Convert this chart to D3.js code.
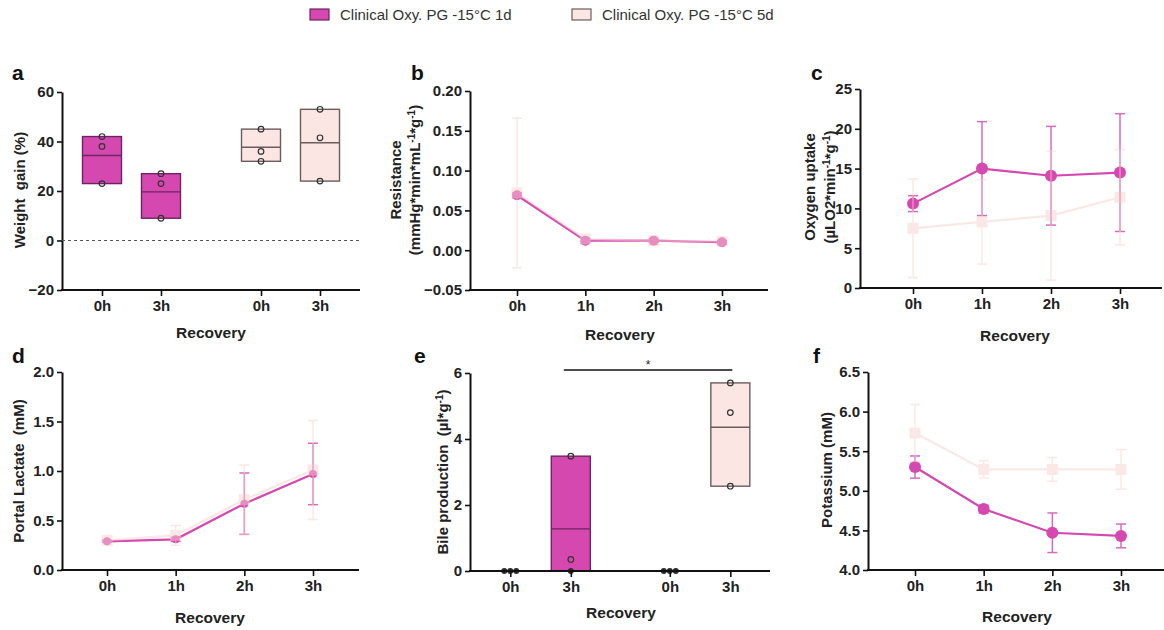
<!DOCTYPE html>
<html><head><meta charset="utf-8">
<script src="https://cdn.jsdelivr.net/npm/d3@7"></script>
<style>
body{margin:0;background:#fff}
svg{display:block}
text{font-family:"Liberation Sans",Arial,sans-serif;white-space:pre}
</style>
</head><body>
<svg id="chart" width="1164" height="630"></svg>
<script>
// ---------------- DATA ----------------
const groups = ["Clinical Oxy. PG -15°C 1d", "Clinical Oxy. PG -15°C 5d"];
const timesBox = ["0h", "3h"];
const timesLine = ["0h", "1h", "2h", "3h"];

// a: weight gain (%) individual values
const weight1d = { "0h": [42, 38, 23], "3h": [27, 23, 9] };
const weight5d = { "0h": [45, 36, 32], "3h": [53, 41.5, 24] };

// e: bile production individual values
const bile1d = { "0h": [0, 0, 0], "3h": [3.48, 0.35, 0] };
const bile5d = { "0h": [0, 0, 0], "3h": [5.7, 4.8, 2.57] };

// b: resistance mean / sd
const resMean1d = [0.069, 0.012, 0.012, 0.010];
const resSd1d   = [0.003, 0.003, 0.002, 0.002];
const resMean5d = [0.072, 0.014, 0.012, 0.011];
const resSd5d   = [0.094, 0.004, 0.004, 0.003];

// c: oxygen uptake mean / sd
const oxyMean1d = [10.6, 15.0, 14.1, 14.5];
const oxySd1d   = [1.0, 5.9, 6.2, 7.4];
const oxyMean5d = [7.5, 8.3, 9.1, 11.4];
const oxySd5d   = [6.2, 5.3, 8.1, 6.0];

// d: portal lactate mean / sd
const lacMean1d = [0.29, 0.31, 0.67, 0.97];
const lacSd1d   = [0.01, 0.02, 0.31, 0.31];
const lacMean5d = [0.30, 0.35, 0.71, 1.01];
const lacSd5d   = [0.01, 0.10, 0.35, 0.50];

// f: potassium mean / sd
const kMean1d = [5.30, 4.77, 4.47, 4.43];
const kSd1d   = [0.14, 0.05, 0.25, 0.15];
const kMean5d = [5.73, 5.27, 5.27, 5.27];
const kSd5d   = [0.36, 0.11, 0.15, 0.25];

// tick values
const ticksA = [-20, 0, 20, 40, 60];
const ticksB = [-0.05, 0, 0.05, 0.10, 0.15, 0.20];
const ticksC = [0, 5, 10, 15, 20, 25];
const ticksD = [0, 0.5, 1.0, 1.5, 2.0];
const ticksE = [0, 2, 4, 6];
const ticksF = [4.0, 4.5, 5.0, 5.5, 6.0, 6.5];

// ---------------- STYLE ----------------
const C1 = "#d548b0", C1dark = "#6e2460", C1err = "#d46cbf";
const C2 = "#f7d3cf", C2fill = "#fbe6e3", C2stroke = "#6b5d5d";
const FONT = '"Liberation Sans",Arial,sans-serif';
const svg = d3.select("#chart");

// ---------------- LEGEND ----------------
const legendPos = [[310, 340], [572, 602]];
groups.forEach((g, i) => {
  svg.append("rect").attr("x", legendPos[i][0]).attr("y", 9).attr("width", 19).attr("height", 11)
    .attr("fill", i === 0 ? C1 : C2fill).attr("stroke", i === 0 ? C1dark : C2stroke).attr("stroke-width", 1.2);
  svg.append("text").attr("x", legendPos[i][1]).attr("y", 20).attr("font-size", 15).attr("fill", "#333").text(g);
});

// ---------------- HELPERS ----------------
function yAxis(p) {
  const y = d3.scaleLinear().domain(p.yDomain).range([p.y1, p.y0]);
  const ax = d3.axisLeft(y).tickValues(p.ticks).tickSize(5).tickSizeOuter(0).tickPadding(3)
    .tickFormat(p.fmt);
  const g = svg.append("g").attr("transform", `translate(${p.x0},0)`).call(ax);
  g.select(".domain").attr("stroke", "#111").attr("stroke-width", 2);
  g.selectAll(".tick line").attr("stroke", "#111").attr("stroke-width", 1.6);
  g.selectAll(".tick text").attr("font-size", 15).attr("font-weight", "bold").attr("fill", "#222")
    .style("font-family", FONT);
  return y;
}
function xAxis(p, scale, fmt) {
  const ax = d3.axisBottom(scale).tickSize(6).tickSizeOuter(0).tickPadding(4);
  if (fmt) ax.tickFormat(fmt);
  const g = svg.append("g").attr("transform", `translate(0,${p.y1})`).call(ax);
  g.select(".domain").remove();
  g.selectAll(".tick line").attr("stroke", "#111").attr("stroke-width", 1.6);
  g.selectAll(".tick text").attr("font-size", 15).attr("font-weight", "bold").attr("fill", "#222")
    .style("font-family", FONT);
  svg.append("line").attr("x1", p.x0 - 1).attr("x2", p.x1).attr("y1", p.y1).attr("y2", p.y1)
    .attr("stroke", "#111").attr("stroke-width", 2);
}
function letter(t, x, y) {
  svg.append("text").attr("x", x).attr("y", y).attr("font-size", 21).attr("font-weight", "bold").attr("fill", "#111").text(t);
}
function recovery(x, y) {
  svg.append("text").attr("x", x).attr("y", y).attr("text-anchor", "middle").attr("font-size", 15.5)
    .attr("font-weight", "bold").attr("fill", "#222").text("Recovery");
}
// lines: array of lines; each line array of [text, isSup]
function yLabel(x, y, lines, lineGap) {
  const g = svg.append("g").attr("transform", `translate(${x},${y}) rotate(-90)`);
  lines.forEach((parts, li) => {
    const t = g.append("text").attr("x", 0).attr("y", li * lineGap).attr("dy", "0.35em")
      .attr("text-anchor", "middle").attr("font-size", 15).attr("font-weight", "bold").attr("fill", "#222");
    let shifted = false;
    parts.forEach(([s, sup]) => {
      const ts = t.append("tspan").text(s);
      if (sup) { ts.attr("dy", -5).attr("font-size", 10); shifted = true; }
      else if (shifted) { ts.attr("dy", 5); shifted = false; }
    });
  });
}

// ---------------- BOX (floating bar) PANELS ----------------
function boxPanel(p, data1, data5) {
  const y = yAxis(p);
  const outer = d3.scaleBand().domain(groups).range(p.outerRange).paddingInner(p.padIn).paddingOuter(0);
  const inner = d3.scalePoint().domain(timesBox).range([0, outer.bandwidth()]).padding(0.5);
  const keys = [];
  groups.forEach(g => timesBox.forEach(t => keys.push(g + "|" + t)));
  const xo = d3.scaleOrdinal().domain(keys).range(keys.map(k => { const [g, t] = k.split("|"); return outer(g) + inner(t); }));
  if (p.zeroLine) {
    svg.append("line").attr("x1", p.x0).attr("x2", p.x1).attr("y1", y(0)).attr("y2", y(0))
      .attr("stroke", "#555").attr("stroke-width", 1.2).attr("stroke-dasharray", "3,3");
  }
  const bw = 39;
  [data1, data5].forEach((dat, gi) => {
    timesBox.forEach(t => {
      const vals = dat[t];
      const cx = xo(groups[gi] + "|" + t);
      const mx = d3.max(vals), mn = d3.min(vals), mean = d3.mean(vals);
      if (mx > mn) {
        svg.append("rect").attr("x", cx - bw / 2).attr("y", y(mx)).attr("width", bw).attr("height", y(mn) - y(mx))
          .attr("fill", gi === 0 ? C1 : C2fill).attr("stroke", gi === 0 ? C1dark : C2stroke).attr("stroke-width", 1.4);
        svg.append("line").attr("x1", cx - bw / 2).attr("x2", cx + bw / 2).attr("y1", y(mean)).attr("y2", y(mean))
          .attr("stroke", gi === 0 ? C1dark : C2stroke).attr("stroke-width", 1.4);
      }
      const counts = {};
      vals.forEach(v => counts[v] = (counts[v] || 0) + 1);
      const seen = {};
      vals.forEach(v => {
        const n = counts[v], k = (seen[v] = (seen[v] || 0) + 1) - 1;
        const off = n > 1 ? (k - (n - 1) / 2) * 6 : 0;
        const zero = v === 0;
        svg.append("circle").attr("cx", cx + off).attr("cy", y(v)).attr("r", zero ? 2.4 : 2.8)
          .attr("fill", zero ? "#222" : "none").attr("stroke", "#333").attr("stroke-width", 1.2);
      });
    });
  });
  xAxis(p, xo, k => k.split("|")[1]);
  return { y, xo };
}

// ---------------- LINE PANELS ----------------
function linePanel(p, m1, s1, m5, s5, r1) {
  const y = yAxis(p);
  const x = d3.scalePoint().domain(timesLine).range(p.pts);
  const series = [[m1, s1], [m5, s5]];
  series.forEach(([m, s], gi) => {
    const g = svg.append("g").attr("opacity", gi === 0 ? 1 : 0.5);
    const col = gi === 0 ? C1err : C2;
    timesLine.forEach((t, i) => {
      const cx = x(t);
      g.append("line").attr("x1", cx).attr("x2", cx).attr("y1", y(m[i] - s[i])).attr("y2", y(m[i] + s[i]))
        .attr("stroke", col).attr("stroke-width", 1.5);
      [m[i] - s[i], m[i] + s[i]].forEach(v => {
        g.append("line").attr("x1", cx - 5).attr("x2", cx + 5).attr("y1", y(v)).attr("y2", y(v))
          .attr("stroke", col).attr("stroke-width", 1.5);
      });
    });
    const line = d3.line().x((d, i) => x(timesLine[i])).y(d => y(d));
    g.append("path").datum(m).attr("d", line).attr("fill", "none")
      .attr("stroke", gi === 0 ? C1 : C2).attr("stroke-width", 2.2);
    timesLine.forEach((t, i) => {
      if (gi === 0) {
        g.append("circle").attr("cx", x(t)).attr("cy", y(m[i])).attr("r", r1).attr("fill", C1);
      } else {
        g.append("rect").attr("x", x(t) - 5.5).attr("y", y(m[i]) - 5.5).attr("width", 11).attr("height", 11)
          .attr("fill", C2);
      }
    });
  });
  xAxis(p, x);
}

// ---------------- PANEL a ----------------
boxPanel({ x0: 62, x1: 360, y0: 92, y1: 290, yDomain: [-20, 60], ticks: ticksA, fmt: d3.format("d"),
  outerRange: [72.5, 349.5], padIn: 0.258, zeroLine: true }, weight1d, weight5d);
letter("a", 12, 80);
recovery(211, 338);
yLabel(20, 190, [[["Weight  gain (%)", false]]], 0);

// ---------------- PANEL b ----------------
linePanel({ x0: 470, x1: 768, y0: 91, y1: 290, yDomain: [-0.05, 0.20], ticks: ticksB, fmt: d3.format(".2f"),
  pts: [517, 722] }, resMean1d, resSd1d, resMean5d, resSd5d, 5);
letter("b", 411, 80);
recovery(620, 340);
yLabel(396, 180, [[["Resistance", false]], [["(mmHg*min*mL", false], ["-1", true], ["*g", false], ["-1", true], [")", false]]], 19);

// ---------------- PANEL c ----------------
linePanel({ x0: 860, x1: 1162, y0: 89, y1: 288, yDomain: [0, 25], ticks: ticksC, fmt: d3.format("d"),
  pts: [913, 1120] }, oxyMean1d, oxySd1d, oxyMean5d, oxySd5d, 6);
letter("c", 811, 80);
recovery(1015, 341);
yLabel(810, 187, [[["Oxygen uptake", false]], [["(µLO2*min", false], ["-1", true], ["*g", false], ["-1", true], [")", false]]], 20);

// ---------------- PANEL d ----------------
linePanel({ x0: 62, x1: 359, y0: 372, y1: 570, yDomain: [0, 2], ticks: ticksD, fmt: d3.format(".1f"),
  pts: [107, 313] }, lacMean1d, lacSd1d, lacMean5d, lacSd5d, 4);
letter("d", 12, 363);
recovery(210, 623);
yLabel(19, 471, [[["Portal Lactate  (mM)", false]]], 0);

// ---------------- PANEL e ----------------
const eRes = boxPanel({ x0: 470, x1: 770, y0: 373, y1: 571, yDomain: [0, 6], ticks: ticksE, fmt: d3.format("d"),
  outerRange: [480, 760.6], padIn: 0.241, zeroLine: false }, bile1d, bile5d);
letter("e", 414, 363);
recovery(621, 618);
yLabel(443, 472, [[["Bile production  (µl*g", false], ["-1", true], [")", false]]], 0);
{
  const xa = eRes.xo(groups[0] + "|3h") - 7, xb = eRes.xo(groups[1] + "|3h") + 2, yy = eRes.y(6) - 3;
  svg.append("line").attr("x1", xa).attr("x2", xb).attr("y1", yy).attr("y2", yy).attr("stroke", "#111").attr("stroke-width", 1.4);
  svg.append("text").attr("x", (xa + xb) / 2).attr("y", yy - 1).attr("text-anchor", "middle").attr("font-size", 12).attr("fill", "#222").text("*");
}

// ---------------- PANEL f ----------------
linePanel({ x0: 868, x1: 1164, y0: 372, y1: 570, yDomain: [4, 6.5], ticks: ticksF, fmt: d3.format(".1f"),
  pts: [915, 1121] }, kMean1d, kSd1d, kMean5d, kSd5d, 6);
letter("f", 813, 363);
recovery(1017, 622);
yLabel(827, 470, [[["Potassium (mM)", false]]], 0);
</script>
</body></html>
